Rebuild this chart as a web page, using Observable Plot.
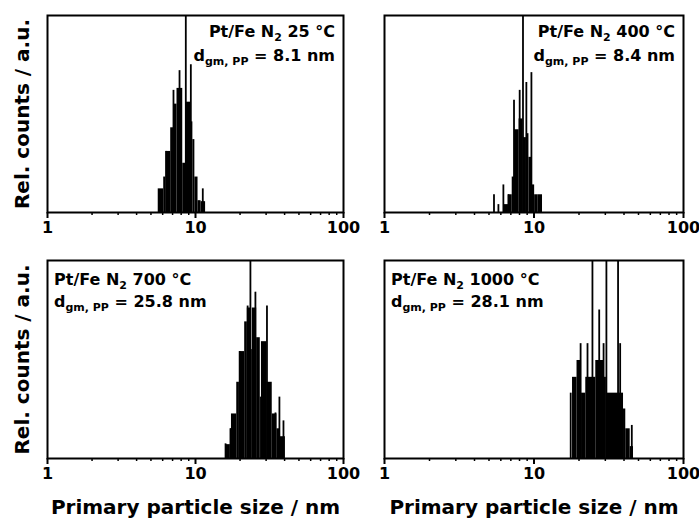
<!DOCTYPE html>
<html><head><meta charset="utf-8">
<script src="https://cdn.jsdelivr.net/npm/d3@7"></script>
<script src="https://cdn.jsdelivr.net/npm/@observablehq/plot@0.6"></script>
<style>
body{margin:0;background:#fff;}
#fig{position:relative;width:699px;height:520px;background:#fff;font-family:"DejaVu Sans",sans-serif;}
#fig svg{position:absolute;}
</style></head><body><div id="fig"></div>
<script>
// ---- data ----
const temps = ["25", "400", "700", "1000"];
const dgmValues = ["8.1", "8.4", "25.8", "28.1"];
const xMajorTicks = [1, 10, 100];
const xMinorTicks = [2, 3, 4, 5, 6, 7, 8, 9, 20, 30, 40, 50, 60, 70, 80, 90];
const xLabel = "Primary particle size / nm";
const yLabel = "Rel. counts / a.u.";

// panel 1: 25 °C (bin edges in nm, relative heights)
const p1Edges = [5.6, 6.1, 6.3, 6.8, 7.1, 7.5, 8.2, 8.6, 9.3, 9.6, 9.9, 10.4, 10.9, 11.7];
const p1Heights = [0.12, 0.18, 0.31, 0.43, 0.55, 0.63, 0.25, 0.56, 0.46, 0.37, 0.18, 0.06, 0.055];
const p1SpikeX = [6.35, 7.1, 7.8, 8.6, 9.3, 11.2];
const p1SpikeH = [0.31, 0.62, 0.72, 1.0, 0.75, 0.12];

// panel 2: 400 °C
const p2Edges = [6.25, 6.75, 7.15, 7.4, 7.95, 8.45, 8.9, 9.25, 9.7, 10.1, 10.6, 11.4];
const p2Heights = [0.04, 0.09, 0.18, 0.42, 0.475, 0.38, 0.40, 0.28, 0.14, 0.09, 0.09];
const p2SpikeX = [5.4, 5.78, 6.24, 6.74, 7.35, 8.02, 8.44, 8.89, 9.61];
const p2SpikeH = [0.09, 0.04, 0.14, 0.09, 0.57, 0.62, 1.0, 0.66, 0.71];

// panel 3: 700 °C
const p3Edges = [16.0, 17.2, 17.5, 19.0, 19.8, 21.5, 22.4, 23.6, 24.2, 25.9, 27.4, 27.9, 30.4, 33.0, 35.5, 37.5, 40.5];
const p3Heights = [0.07, 0.15, 0.225, 0.385, 0.54, 0.69, 0.76, 0.55, 0.76, 0.61, 0.31, 0.59, 0.385, 0.225, 0.15, 0.11];
const p3SpikeX = [15.96, 17.25, 19.9, 22.5, 23.5, 25.4, 30.4, 34.7, 36.9, 39.3];
const p3SpikeH = [0.074, 0.15, 0.54, 0.77, 1.0, 0.84, 0.77, 0.23, 0.31, 0.19];

// panel 4: 1000 °C
const p4Edges = [18.1, 19.4, 20.8, 22.2, 25.9, 29.2, 30.5, 39.7, 41.1, 44.0, 46.3];
const p4Heights = [0.41, 0.495, 0.33, 0.41, 0.495, 0.41, 0.33, 0.25, 0.15, 0.06];
const p4SpikeX = [17.6, 20.5, 22.8, 24.6, 27.3, 29.2, 30.5, 36.5, 37.7, 45.1];
const p4SpikeH = [0.33, 0.58, 0.58, 1.0, 0.75, 0.58, 1.0, 1.0, 0.58, 0.167];

// ---- build ----
const bars = (edges, heights) => heights.map((h, i) => ({x1: edges[i], x2: edges[i + 1], h}));
const spikes = (xs, hs) => xs.map((x, i) => ({x, h: hs[i]}));

const panels = [
  {bars: bars(p1Edges, p1Heights), spikes: spikes(p1SpikeX, p1SpikeH), left: 0, top: 0, width: 360, height: 248, mL: 47, mR: 17, mT: 15, mB: 36, xTitle: false, yTitle: true, anchor: "end", l1: 22, l2: 46},
  {bars: bars(p2Edges, p2Heights), spikes: spikes(p2SpikeX, p2SpikeH), left: 360, top: 0, width: 339, height: 248, mL: 24, mR: 16, mT: 15, mB: 36, xTitle: false, yTitle: false, anchor: "end", l1: 22, l2: 46},
  {bars: bars(p3Edges, p3Heights), spikes: spikes(p3SpikeX, p3SpikeH), left: 0, top: 248, width: 360, height: 272, mL: 47, mR: 17, mT: 12, mB: 62, xTitle: true, yTitle: true, anchor: "start", l1: 24.5, l2: 47},
  {bars: bars(p4Edges, p4Heights), spikes: spikes(p4SpikeX, p4SpikeH), left: 360, top: 248, width: 339, height: 272, mL: 24, mR: 16, mT: 12, mB: 62, xTitle: true, yTitle: false, anchor: "start", l1: 24.5, l2: 47}
];

const fig = document.getElementById("fig");
const hasAxisMarks = typeof Plot.axisX === "function";

panels.forEach((p, i) => {
  const marks = [
    Plot.rect(p.bars, {x1: "x1", x2: "x2", y1: () => 0, y2: "h", fill: "black"}),
    Plot.ruleX(p.spikes, {x: "x", y1: () => 0, y2: "h", stroke: "black", strokeWidth: 1.8, clip: true}),
    Plot.frame({stroke: "black", strokeWidth: 2})
  ];
  if (hasAxisMarks) {
    marks.push(Plot.axisX(xMinorTicks, {tickSize: 3, strokeWidth: 1.5, tickFormat: () => "", label: null}));
    marks.push(Plot.axisX(xMajorTicks, {tickSize: 6, tickPadding: 3, strokeWidth: 2, tickFormat: d => String(d), label: null, fontSize: 16, fontWeight: "bold"}));
  }
  if (p.yTitle) marks.push(Plot.text([yLabel], {text: d => d, frameAnchor: "left", textAnchor: "middle", lineAnchor: "middle", dx: -25, rotate: -90, fontSize: 20, fontWeight: "bold"}));
  if (p.xTitle) marks.push(Plot.text([xLabel], {text: d => d, frameAnchor: "bottom", textAnchor: "middle", lineAnchor: "middle", dy: 49, fontSize: 20, fontWeight: "bold"}));

  const svg = Plot.plot({
    width: p.width, height: p.height,
    marginLeft: p.mL, marginRight: p.mR, marginTop: p.mT, marginBottom: p.mB,
    x: hasAxisMarks ? {type: "log", domain: [1, 100], axis: null, label: null}
                    : {type: "log", domain: [1, 100], ticks: xMajorTicks, tickSize: 6, tickFormat: d => String(d), label: null},
    y: {domain: [0, 1], axis: null, label: null},
    style: {background: "white", fontFamily: "DejaVu Sans", fontWeight: "bold", fontSize: "16px", color: "black", overflow: "visible"},
    marks
  });
  svg.style.left = p.left + "px";
  svg.style.top = p.top + "px";
  fig.appendChild(svg);

  // annotation with subscripts
  const s = d3.select(svg);
  const x = p.anchor === "end" ? p.width - p.mR - 8 : p.mL + 7;
  const g = s.append("g").attr("font-family", "DejaVu Sans").attr("font-weight", "bold").attr("font-size", 16).attr("fill", "black").attr("text-anchor", p.anchor);
  const t1 = g.append("text").attr("x", x).attr("y", p.mT + p.l1);
  t1.append("tspan").text("Pt/Fe N");
  t1.append("tspan").attr("font-size", 11).attr("dy", 4).text("2");
  t1.append("tspan").attr("dy", -4).text(" " + temps[i] + " °C");
  const t2 = g.append("text").attr("x", x).attr("y", p.mT + p.l2);
  t2.append("tspan").text("d");
  t2.append("tspan").attr("font-size", 11).attr("dy", 4).text("gm, PP");
  t2.append("tspan").attr("dy", -4).text(" = " + dgmValues[i] + " nm");
});
</script></body></html>
